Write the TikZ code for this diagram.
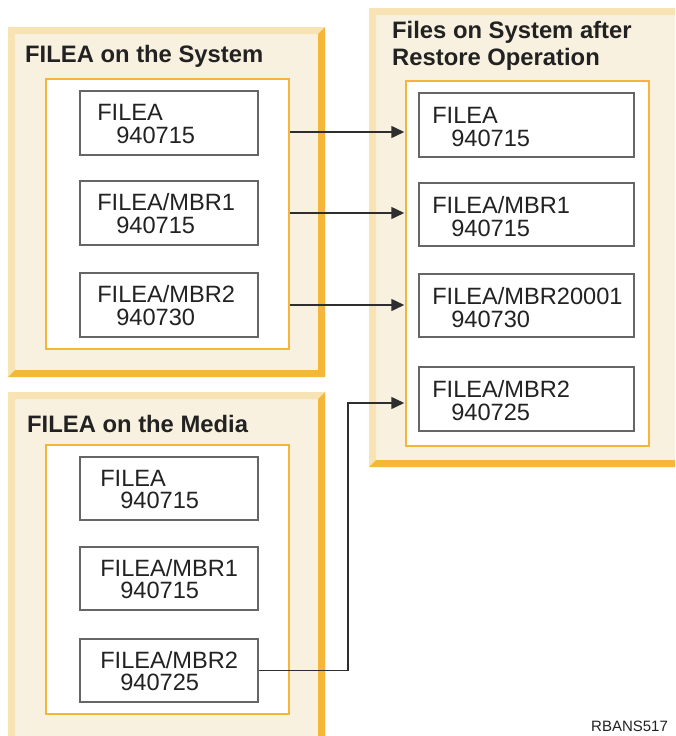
\documentclass[tikz,border=0pt]{standalone}
\usepackage{fontspec}
\setmainfont{Liberation Sans}
\usetikzlibrary{arrows.meta,calc}
\definecolor{cream}{HTML}{F8F1DF}
\definecolor{bevlight}{HTML}{F7E3B3}
\definecolor{bevdark}{HTML}{F5B73A}
\definecolor{innerline}{HTML}{F5B43A}
\definecolor{boxline}{HTML}{666666}
\definecolor{txt}{HTML}{222222}
\newcommand{\bevelpanel}[5]{%
  \fill[cream] (#1,#2) rectangle (#3,#4);
  \fill[bevlight] (#1,#2) -- (#3,#2) -- (#3-#5,#2+#5) -- (#1+#5,#2+#5) -- (#1+#5,#4-#5) -- (#1,#4) -- cycle;
  \fill[bevdark] (#3,#2) -- (#3,#4) -- (#1,#4) -- (#1+#5,#4-#5) -- (#3-#5,#4-#5) -- (#3-#5,#2+#5) -- cycle;
}
\tikzset{
  innerbox/.style={draw=innerline, line width=1.5pt, fill=white, inner sep=0pt},
  filebox/.style={draw=boxline, line width=1.8pt, fill=white, inner sep=0pt, minimum height=63pt},
  ftxt/.style={text=txt, font=\fontsize{23.6}{26}\selectfont, inner sep=0pt, anchor=base west},
  ttl/.style={text=txt, font=\bfseries\fontsize{23.8}{26}\selectfont, inner sep=0pt, anchor=base west},
  arr/.style={draw=black!82, line width=1.5pt, -{Triangle[length=13pt,width=12pt]}},
}
\begin{document}
\begin{tikzpicture}[x=1pt,y=-1pt]
\useasboundingbox (0,0) rectangle (675,736);
\clip (0,0) rectangle (675,736);
\fill[white] (0,0) rectangle (675,736);
% panels
\bevelpanel{8}{27}{325}{377}{7}
\bevelpanel{369}{8}{690}{467}{7}
\bevelpanel{8}{392}{325}{780}{7}
% titles
\node[ttl] (t1) at (25,62) {FILEA on the System};
\node[ttl] (t2a) at (392,38) {Files on System after};
\node[ttl] (t2b) at (392,65) {Restore Operation};
\node[ttl] (t3) at (27,432) {FILEA on the Media};
% inner boxes
\node[innerbox, minimum width=243pt, minimum height=270pt] (sysIn) at (167.5,214) {};
\node[innerbox, minimum width=243pt, minimum height=365pt] (resIn) at (527.5,263.5) {};
\node[innerbox, minimum width=243pt, minimum height=269pt] (medIn) at (167.5,579.5) {};
% system file boxes
\node[filebox, minimum width=178pt, minimum height=64pt] (sA) at (169,123) {};
\node[filebox, minimum width=178pt, minimum height=64pt] (sB) at (169,213) {};
\node[filebox, minimum width=178pt, minimum height=64pt] (sC) at (169,305) {};
% result file boxes
\node[filebox, minimum width=215pt, minimum height=64pt] (rA) at (526.5,125) {};
\node[filebox, minimum width=215pt] (rB) at (526.5,214.5) {};
\node[filebox, minimum width=215pt] (rC) at (526.5,305.5) {};
\node[filebox, minimum width=215pt, minimum height=64pt] (rD) at (526.5,399) {};
% media file boxes
\node[filebox, minimum width=178pt] (mA) at (169,488.5) {};
\node[filebox, minimum width=178pt] (mB) at (169,578.5) {};
\node[filebox, minimum width=178pt] (mC) at (169,670.5) {};
% texts system
\node[ftxt] (sA1) at ($(sA.north west)+(18,30)$) {FILEA};
\node[ftxt] (sA2) at ($(sA.north west)+(37,53)$) {940715};
\node[ftxt] (sB1) at ($(sB.north west)+(18,30)$) {FILEA/MBR1};
\node[ftxt] (sB2) at ($(sB.north west)+(37,53)$) {940715};
\node[ftxt] (sC1) at ($(sC.north west)+(18,30)$) {FILEA/MBR2};
\node[ftxt] (sC2) at ($(sC.north west)+(37,53)$) {940730};
% texts result
\node[ftxt] (rA1) at ($(rA.north west)+(14,31)$) {FILEA};
\node[ftxt] (rA2) at ($(rA.north west)+(33,54)$) {940715};
\node[ftxt] (rB1) at ($(rB.north west)+(14,31)$) {FILEA/MBR1};
\node[ftxt] (rB2) at ($(rB.north west)+(33,54)$) {940715};
\node[ftxt] (rC1) at ($(rC.north west)+(14,31)$) {FILEA/MBR20001};
\node[ftxt] (rC2) at ($(rC.north west)+(33,54)$) {940730};
\node[ftxt] (rD1) at ($(rD.north west)+(14,31)$) {FILEA/MBR2};
\node[ftxt] (rD2) at ($(rD.north west)+(33,54)$) {940725};
% texts media
\node[ftxt] (mA1) at ($(mA.north west)+(21,30)$) {FILEA};
\node[ftxt] (mA2) at ($(mA.north west)+(41,52)$) {940715};
\node[ftxt] (mB1) at ($(mB.north west)+(21,30)$) {FILEA/MBR1};
\node[ftxt] (mB2) at ($(mB.north west)+(41,52)$) {940715};
\node[ftxt] (mC1) at ($(mC.north west)+(21,30)$) {FILEA/MBR2};
\node[ftxt] (mC2) at ($(mC.north west)+(41,52)$) {940725};
% arrows
\coordinate (y1) at (0,132);
\coordinate (y4) at (0,403);
\coordinate (bend) at (348,0);
\draw[arr] (sysIn.east |- y1) -- ([xshift=-1pt]resIn.west |- y1);
\draw[arr] (sysIn.east |- sB.center) -- ([xshift=-1pt]resIn.west |- sB.center);
\draw[arr] (sysIn.east |- sC.center) -- ([xshift=-1pt]resIn.west |- sC.center);
\draw[arr] (mC.east) -- (bend |- mC.east) -- (bend |- y4) -- ([xshift=-1pt]resIn.west |- y4);
% figure id
\node[text=txt, font=\fontsize{15}{17}\selectfont, inner sep=0pt, anchor=base west] (fig) at (591,731) {RBANS517};
\end{tikzpicture}
\end{document}
